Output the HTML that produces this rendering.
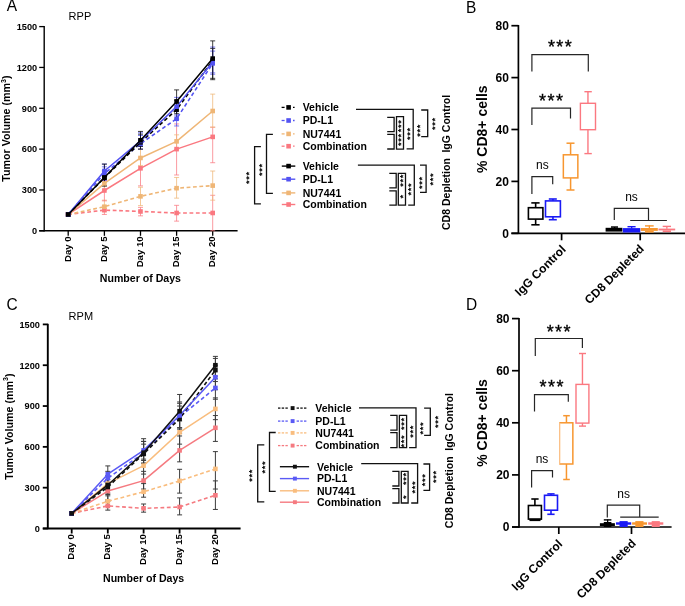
<!DOCTYPE html>
<html><head><meta charset="utf-8"><style>
html,body{margin:0;padding:0;background:#fff;width:685px;height:606px;overflow:hidden}
svg{display:block;will-change:transform}
text{font-family:"Liberation Sans", sans-serif}
</style></head><body>
<svg width="685" height="606" viewBox="0 0 685 606">
<rect width="685" height="606" fill="#fff"/>
<text font-size="15.5" font-weight="normal" text-anchor="start" fill="#000" transform="translate(6.80 11.10) scale(1 1.08)">A</text>
<text font-size="11" font-weight="normal" text-anchor="start" fill="#000" transform="translate(68.60 20.00)">RPP</text>
<line x1="44.2" y1="26" x2="44.2" y2="231.4" stroke="#000" stroke-width="1.4"/>
<line x1="39.2" y1="230.8" x2="44.2" y2="230.8" stroke="#000" stroke-width="1.3"/>
<text font-size="9.2" font-weight="bold" text-anchor="end" fill="#000" transform="translate(37.20 234.10)">0</text>
<line x1="39.2" y1="189.96" x2="44.2" y2="189.96" stroke="#000" stroke-width="1.3"/>
<text font-size="9.2" font-weight="bold" text-anchor="end" fill="#000" transform="translate(37.20 193.26)">300</text>
<line x1="39.2" y1="149.12" x2="44.2" y2="149.12" stroke="#000" stroke-width="1.3"/>
<text font-size="9.2" font-weight="bold" text-anchor="end" fill="#000" transform="translate(37.20 152.42)">600</text>
<line x1="39.2" y1="108.28" x2="44.2" y2="108.28" stroke="#000" stroke-width="1.3"/>
<text font-size="9.2" font-weight="bold" text-anchor="end" fill="#000" transform="translate(37.20 111.58)">900</text>
<line x1="39.2" y1="67.44" x2="44.2" y2="67.44" stroke="#000" stroke-width="1.3"/>
<text font-size="9.2" font-weight="bold" text-anchor="end" fill="#000" transform="translate(37.20 70.74)">1200</text>
<line x1="39.2" y1="26.6" x2="44.2" y2="26.6" stroke="#000" stroke-width="1.3"/>
<text font-size="9.2" font-weight="bold" text-anchor="end" fill="#000" transform="translate(37.20 29.90)">1500</text>
<line x1="39.2" y1="230.8" x2="237.6" y2="230.8" stroke="#000" stroke-width="1.4"/>
<line x1="68.2" y1="230.8" x2="68.2" y2="235.8" stroke="#000" stroke-width="1.3"/>
<text font-size="9.6" font-weight="bold" text-anchor="end" fill="#000" transform="translate(70.60 236.40) rotate(-90)">Day 0</text>
<line x1="104.4" y1="230.8" x2="104.4" y2="235.8" stroke="#000" stroke-width="1.3"/>
<text font-size="9.6" font-weight="bold" text-anchor="end" fill="#000" transform="translate(106.80 236.40) rotate(-90)">Day 5</text>
<line x1="140.5" y1="230.8" x2="140.5" y2="235.8" stroke="#000" stroke-width="1.3"/>
<text font-size="9.6" font-weight="bold" text-anchor="end" fill="#000" transform="translate(142.90 236.40) rotate(-90)">Day 10</text>
<line x1="176.6" y1="230.8" x2="176.6" y2="235.8" stroke="#000" stroke-width="1.3"/>
<text font-size="9.6" font-weight="bold" text-anchor="end" fill="#000" transform="translate(179.00 236.40) rotate(-90)">Day 15</text>
<line x1="212.7" y1="230.8" x2="212.7" y2="235.8" stroke="#000" stroke-width="1.3"/>
<text font-size="9.6" font-weight="bold" text-anchor="end" fill="#000" transform="translate(215.10 236.40) rotate(-90)">Day 20</text>
<text font-size="10.6" font-weight="bold" text-anchor="middle" fill="#000" transform="translate(140.40 282.40)">Number of Days</text>
<text font-size="10.7" font-weight="bold" text-anchor="middle" fill="#000" transform="translate(10.10 128.60) rotate(-90)">Tumor Volume (mm<tspan font-size="7" dy="-4.6">3</tspan><tspan dy="4.6">)</tspan></text>
<line x1="104.4" y1="205.62" x2="104.4" y2="214.46" stroke="#fa7880" stroke-width="1" stroke-opacity="0.75"/>
<line x1="101.9" y1="205.62" x2="106.9" y2="205.62" stroke="#fa7880" stroke-width="1" stroke-opacity="0.75"/>
<line x1="101.9" y1="214.46" x2="106.9" y2="214.46" stroke="#fa7880" stroke-width="1" stroke-opacity="0.75"/>
<line x1="140.5" y1="207.39" x2="140.5" y2="215.83" stroke="#fa7880" stroke-width="1" stroke-opacity="0.75"/>
<line x1="138" y1="207.39" x2="143" y2="207.39" stroke="#fa7880" stroke-width="1" stroke-opacity="0.75"/>
<line x1="138" y1="215.83" x2="143" y2="215.83" stroke="#fa7880" stroke-width="1" stroke-opacity="0.75"/>
<line x1="176.6" y1="205.34" x2="176.6" y2="221.13" stroke="#fa7880" stroke-width="1" stroke-opacity="0.75"/>
<line x1="174.1" y1="205.34" x2="179.1" y2="205.34" stroke="#fa7880" stroke-width="1" stroke-opacity="0.75"/>
<line x1="174.1" y1="221.13" x2="179.1" y2="221.13" stroke="#fa7880" stroke-width="1" stroke-opacity="0.75"/>
<line x1="212.7" y1="195.27" x2="212.7" y2="230.8" stroke="#fa7880" stroke-width="1" stroke-opacity="0.75"/>
<line x1="210.2" y1="195.27" x2="215.2" y2="195.27" stroke="#fa7880" stroke-width="1" stroke-opacity="0.75"/>
<line x1="210.2" y1="230.8" x2="215.2" y2="230.8" stroke="#fa7880" stroke-width="1" stroke-opacity="0.75"/>
<line x1="104.4" y1="200.17" x2="104.4" y2="211.74" stroke="#efb676" stroke-width="1" stroke-opacity="0.75"/>
<line x1="101.9" y1="200.17" x2="106.9" y2="200.17" stroke="#efb676" stroke-width="1" stroke-opacity="0.75"/>
<line x1="101.9" y1="211.74" x2="106.9" y2="211.74" stroke="#efb676" stroke-width="1" stroke-opacity="0.75"/>
<line x1="140.5" y1="187.24" x2="140.5" y2="205.62" stroke="#efb676" stroke-width="1" stroke-opacity="0.75"/>
<line x1="138" y1="187.24" x2="143" y2="187.24" stroke="#efb676" stroke-width="1" stroke-opacity="0.75"/>
<line x1="138" y1="205.62" x2="143" y2="205.62" stroke="#efb676" stroke-width="1" stroke-opacity="0.75"/>
<line x1="176.6" y1="177.44" x2="176.6" y2="198.13" stroke="#efb676" stroke-width="1" stroke-opacity="0.75"/>
<line x1="174.1" y1="177.44" x2="179.1" y2="177.44" stroke="#efb676" stroke-width="1" stroke-opacity="0.75"/>
<line x1="174.1" y1="198.13" x2="179.1" y2="198.13" stroke="#efb676" stroke-width="1" stroke-opacity="0.75"/>
<line x1="212.7" y1="171.04" x2="212.7" y2="200.17" stroke="#efb676" stroke-width="1" stroke-opacity="0.75"/>
<line x1="210.2" y1="171.04" x2="215.2" y2="171.04" stroke="#efb676" stroke-width="1" stroke-opacity="0.75"/>
<line x1="210.2" y1="200.17" x2="215.2" y2="200.17" stroke="#efb676" stroke-width="1" stroke-opacity="0.75"/>
<line x1="104.4" y1="180.43" x2="104.4" y2="200.85" stroke="#fa7880" stroke-width="1" stroke-opacity="0.75"/>
<line x1="101.9" y1="180.43" x2="106.9" y2="180.43" stroke="#fa7880" stroke-width="1" stroke-opacity="0.75"/>
<line x1="101.9" y1="200.85" x2="106.9" y2="200.85" stroke="#fa7880" stroke-width="1" stroke-opacity="0.75"/>
<line x1="140.5" y1="157.29" x2="140.5" y2="185.88" stroke="#fa7880" stroke-width="1" stroke-opacity="0.75"/>
<line x1="138" y1="157.29" x2="143" y2="157.29" stroke="#fa7880" stroke-width="1" stroke-opacity="0.75"/>
<line x1="138" y1="185.88" x2="143" y2="185.88" stroke="#fa7880" stroke-width="1" stroke-opacity="0.75"/>
<line x1="176.6" y1="123.94" x2="176.6" y2="174.99" stroke="#fa7880" stroke-width="1" stroke-opacity="0.75"/>
<line x1="174.1" y1="123.94" x2="179.1" y2="123.94" stroke="#fa7880" stroke-width="1" stroke-opacity="0.75"/>
<line x1="174.1" y1="174.99" x2="179.1" y2="174.99" stroke="#fa7880" stroke-width="1" stroke-opacity="0.75"/>
<line x1="212.7" y1="127.2" x2="212.7" y2="162.73" stroke="#fa7880" stroke-width="1" stroke-opacity="0.75"/>
<line x1="210.2" y1="127.2" x2="215.2" y2="127.2" stroke="#fa7880" stroke-width="1" stroke-opacity="0.75"/>
<line x1="210.2" y1="162.73" x2="215.2" y2="162.73" stroke="#fa7880" stroke-width="1" stroke-opacity="0.75"/>
<line x1="104.4" y1="176.35" x2="104.4" y2="189.96" stroke="#efb676" stroke-width="1" stroke-opacity="0.75"/>
<line x1="101.9" y1="176.35" x2="106.9" y2="176.35" stroke="#efb676" stroke-width="1" stroke-opacity="0.75"/>
<line x1="101.9" y1="189.96" x2="106.9" y2="189.96" stroke="#efb676" stroke-width="1" stroke-opacity="0.75"/>
<line x1="140.5" y1="149.12" x2="140.5" y2="165.46" stroke="#efb676" stroke-width="1" stroke-opacity="0.75"/>
<line x1="138" y1="149.12" x2="143" y2="149.12" stroke="#efb676" stroke-width="1" stroke-opacity="0.75"/>
<line x1="138" y1="165.46" x2="143" y2="165.46" stroke="#efb676" stroke-width="1" stroke-opacity="0.75"/>
<line x1="176.6" y1="134.83" x2="176.6" y2="149.12" stroke="#efb676" stroke-width="1" stroke-opacity="0.75"/>
<line x1="174.1" y1="134.83" x2="179.1" y2="134.83" stroke="#efb676" stroke-width="1" stroke-opacity="0.75"/>
<line x1="174.1" y1="149.12" x2="179.1" y2="149.12" stroke="#efb676" stroke-width="1" stroke-opacity="0.75"/>
<line x1="212.7" y1="94.12" x2="212.7" y2="127.2" stroke="#efb676" stroke-width="1" stroke-opacity="0.75"/>
<line x1="210.2" y1="94.12" x2="215.2" y2="94.12" stroke="#efb676" stroke-width="1" stroke-opacity="0.75"/>
<line x1="210.2" y1="127.2" x2="215.2" y2="127.2" stroke="#efb676" stroke-width="1" stroke-opacity="0.75"/>
<line x1="104.4" y1="166.82" x2="104.4" y2="180.43" stroke="#5353f2" stroke-width="1" stroke-opacity="0.75"/>
<line x1="101.9" y1="166.82" x2="106.9" y2="166.82" stroke="#5353f2" stroke-width="1" stroke-opacity="0.75"/>
<line x1="101.9" y1="180.43" x2="106.9" y2="180.43" stroke="#5353f2" stroke-width="1" stroke-opacity="0.75"/>
<line x1="140.5" y1="135.51" x2="140.5" y2="149.12" stroke="#5353f2" stroke-width="1" stroke-opacity="0.75"/>
<line x1="138" y1="135.51" x2="143" y2="135.51" stroke="#5353f2" stroke-width="1" stroke-opacity="0.75"/>
<line x1="138" y1="149.12" x2="143" y2="149.12" stroke="#5353f2" stroke-width="1" stroke-opacity="0.75"/>
<line x1="176.6" y1="111" x2="176.6" y2="125.98" stroke="#5353f2" stroke-width="1" stroke-opacity="0.75"/>
<line x1="174.1" y1="111" x2="179.1" y2="111" stroke="#5353f2" stroke-width="1" stroke-opacity="0.75"/>
<line x1="174.1" y1="125.98" x2="179.1" y2="125.98" stroke="#5353f2" stroke-width="1" stroke-opacity="0.75"/>
<line x1="212.7" y1="51.1" x2="212.7" y2="74.25" stroke="#5353f2" stroke-width="1" stroke-opacity="0.75"/>
<line x1="210.2" y1="51.1" x2="215.2" y2="51.1" stroke="#5353f2" stroke-width="1" stroke-opacity="0.75"/>
<line x1="210.2" y1="74.25" x2="215.2" y2="74.25" stroke="#5353f2" stroke-width="1" stroke-opacity="0.75"/>
<line x1="104.4" y1="170.9" x2="104.4" y2="185.88" stroke="#000000" stroke-width="1" stroke-opacity="0.75"/>
<line x1="101.9" y1="170.9" x2="106.9" y2="170.9" stroke="#000000" stroke-width="1" stroke-opacity="0.75"/>
<line x1="101.9" y1="185.88" x2="106.9" y2="185.88" stroke="#000000" stroke-width="1" stroke-opacity="0.75"/>
<line x1="140.5" y1="134.15" x2="140.5" y2="149.12" stroke="#000000" stroke-width="1" stroke-opacity="0.75"/>
<line x1="138" y1="134.15" x2="143" y2="134.15" stroke="#000000" stroke-width="1" stroke-opacity="0.75"/>
<line x1="138" y1="149.12" x2="143" y2="149.12" stroke="#000000" stroke-width="1" stroke-opacity="0.75"/>
<line x1="176.6" y1="100.11" x2="176.6" y2="119.17" stroke="#000000" stroke-width="1" stroke-opacity="0.75"/>
<line x1="174.1" y1="100.11" x2="179.1" y2="100.11" stroke="#000000" stroke-width="1" stroke-opacity="0.75"/>
<line x1="174.1" y1="119.17" x2="179.1" y2="119.17" stroke="#000000" stroke-width="1" stroke-opacity="0.75"/>
<line x1="212.7" y1="48.38" x2="212.7" y2="78.33" stroke="#000000" stroke-width="1" stroke-opacity="0.75"/>
<line x1="210.2" y1="48.38" x2="215.2" y2="48.38" stroke="#000000" stroke-width="1" stroke-opacity="0.75"/>
<line x1="210.2" y1="78.33" x2="215.2" y2="78.33" stroke="#000000" stroke-width="1" stroke-opacity="0.75"/>
<line x1="104.4" y1="164.09" x2="104.4" y2="176.35" stroke="#5353f2" stroke-width="1" stroke-opacity="0.75"/>
<line x1="101.9" y1="164.09" x2="106.9" y2="164.09" stroke="#5353f2" stroke-width="1" stroke-opacity="0.75"/>
<line x1="101.9" y1="176.35" x2="106.9" y2="176.35" stroke="#5353f2" stroke-width="1" stroke-opacity="0.75"/>
<line x1="140.5" y1="132.78" x2="140.5" y2="146.4" stroke="#5353f2" stroke-width="1" stroke-opacity="0.75"/>
<line x1="138" y1="132.78" x2="143" y2="132.78" stroke="#5353f2" stroke-width="1" stroke-opacity="0.75"/>
<line x1="138" y1="146.4" x2="143" y2="146.4" stroke="#5353f2" stroke-width="1" stroke-opacity="0.75"/>
<line x1="176.6" y1="97.39" x2="176.6" y2="115.09" stroke="#5353f2" stroke-width="1" stroke-opacity="0.75"/>
<line x1="174.1" y1="97.39" x2="179.1" y2="97.39" stroke="#5353f2" stroke-width="1" stroke-opacity="0.75"/>
<line x1="174.1" y1="115.09" x2="179.1" y2="115.09" stroke="#5353f2" stroke-width="1" stroke-opacity="0.75"/>
<line x1="212.7" y1="47.02" x2="212.7" y2="72.89" stroke="#5353f2" stroke-width="1" stroke-opacity="0.75"/>
<line x1="210.2" y1="47.02" x2="215.2" y2="47.02" stroke="#5353f2" stroke-width="1" stroke-opacity="0.75"/>
<line x1="210.2" y1="72.89" x2="215.2" y2="72.89" stroke="#5353f2" stroke-width="1" stroke-opacity="0.75"/>
<line x1="104.4" y1="164.09" x2="104.4" y2="185.88" stroke="#000000" stroke-width="1" stroke-opacity="0.75"/>
<line x1="101.9" y1="164.09" x2="106.9" y2="164.09" stroke="#000000" stroke-width="1" stroke-opacity="0.75"/>
<line x1="101.9" y1="185.88" x2="106.9" y2="185.88" stroke="#000000" stroke-width="1" stroke-opacity="0.75"/>
<line x1="140.5" y1="131.42" x2="140.5" y2="146.4" stroke="#000000" stroke-width="1" stroke-opacity="0.75"/>
<line x1="138" y1="131.42" x2="143" y2="131.42" stroke="#000000" stroke-width="1" stroke-opacity="0.75"/>
<line x1="138" y1="146.4" x2="143" y2="146.4" stroke="#000000" stroke-width="1" stroke-opacity="0.75"/>
<line x1="176.6" y1="89.9" x2="176.6" y2="113.73" stroke="#000000" stroke-width="1" stroke-opacity="0.75"/>
<line x1="174.1" y1="89.9" x2="179.1" y2="89.9" stroke="#000000" stroke-width="1" stroke-opacity="0.75"/>
<line x1="174.1" y1="113.73" x2="179.1" y2="113.73" stroke="#000000" stroke-width="1" stroke-opacity="0.75"/>
<line x1="212.7" y1="40.89" x2="212.7" y2="79.69" stroke="#000000" stroke-width="1" stroke-opacity="0.75"/>
<line x1="210.2" y1="40.89" x2="215.2" y2="40.89" stroke="#000000" stroke-width="1" stroke-opacity="0.75"/>
<line x1="210.2" y1="79.69" x2="215.2" y2="79.69" stroke="#000000" stroke-width="1" stroke-opacity="0.75"/>
<path d="M68.20,214.46 L104.40,210.11 L140.50,211.47 L176.60,212.97 L212.70,212.97" stroke="#fa7880" stroke-width="1.6" fill="none" stroke-dasharray="3.8,2.6" stroke-linejoin="round"/>
<rect x="65.9" y="212.16" width="4.6" height="4.6" fill="#fa7880" stroke="none" stroke-width="1"/>
<rect x="102.1" y="207.81" width="4.6" height="4.6" fill="#fa7880" stroke="none" stroke-width="1"/>
<rect x="138.2" y="209.17" width="4.6" height="4.6" fill="#fa7880" stroke="none" stroke-width="1"/>
<rect x="174.3" y="210.67" width="4.6" height="4.6" fill="#fa7880" stroke="none" stroke-width="1"/>
<rect x="210.4" y="210.67" width="4.6" height="4.6" fill="#fa7880" stroke="none" stroke-width="1"/>
<path d="M68.20,214.46 L104.40,206.70 L140.50,196.36 L176.60,188.19 L212.70,185.60" stroke="#efb676" stroke-width="1.6" fill="none" stroke-dasharray="3.8,2.6" stroke-linejoin="round"/>
<rect x="65.9" y="212.16" width="4.6" height="4.6" fill="#efb676" stroke="none" stroke-width="1"/>
<rect x="102.1" y="204.4" width="4.6" height="4.6" fill="#efb676" stroke="none" stroke-width="1"/>
<rect x="138.2" y="194.06" width="4.6" height="4.6" fill="#efb676" stroke="none" stroke-width="1"/>
<rect x="174.3" y="185.89" width="4.6" height="4.6" fill="#efb676" stroke="none" stroke-width="1"/>
<rect x="210.4" y="183.3" width="4.6" height="4.6" fill="#efb676" stroke="none" stroke-width="1"/>
<path d="M68.20,214.46 L104.40,190.50 L140.50,168.31 L176.60,149.12 L212.70,136.87" stroke="#fa7880" stroke-width="1.5" fill="none" stroke-linejoin="round"/>
<rect x="65.9" y="212.16" width="4.6" height="4.6" fill="#fa7880" stroke="none" stroke-width="1"/>
<rect x="102.1" y="188.2" width="4.6" height="4.6" fill="#fa7880" stroke="none" stroke-width="1"/>
<rect x="138.2" y="166.01" width="4.6" height="4.6" fill="#fa7880" stroke="none" stroke-width="1"/>
<rect x="174.3" y="146.82" width="4.6" height="4.6" fill="#fa7880" stroke="none" stroke-width="1"/>
<rect x="210.4" y="134.57" width="4.6" height="4.6" fill="#fa7880" stroke="none" stroke-width="1"/>
<path d="M68.20,214.46 L104.40,183.43 L140.50,157.97 L176.60,141.36 L212.70,111.00" stroke="#efb676" stroke-width="1.5" fill="none" stroke-linejoin="round"/>
<rect x="65.9" y="212.16" width="4.6" height="4.6" fill="#efb676" stroke="none" stroke-width="1"/>
<rect x="102.1" y="181.13" width="4.6" height="4.6" fill="#efb676" stroke="none" stroke-width="1"/>
<rect x="138.2" y="155.67" width="4.6" height="4.6" fill="#efb676" stroke="none" stroke-width="1"/>
<rect x="174.3" y="139.06" width="4.6" height="4.6" fill="#efb676" stroke="none" stroke-width="1"/>
<rect x="210.4" y="108.7" width="4.6" height="4.6" fill="#efb676" stroke="none" stroke-width="1"/>
<path d="M68.20,214.46 L104.40,173.62 L140.50,143.67 L176.60,118.76 L212.70,63.36" stroke="#5353f2" stroke-width="1.6" fill="none" stroke-dasharray="3.8,2.6" stroke-linejoin="round"/>
<rect x="65.9" y="212.16" width="4.6" height="4.6" fill="#5353f2" stroke="none" stroke-width="1"/>
<rect x="102.1" y="171.32" width="4.6" height="4.6" fill="#5353f2" stroke="none" stroke-width="1"/>
<rect x="138.2" y="141.37" width="4.6" height="4.6" fill="#5353f2" stroke="none" stroke-width="1"/>
<rect x="174.3" y="116.46" width="4.6" height="4.6" fill="#5353f2" stroke="none" stroke-width="1"/>
<rect x="210.4" y="61.06" width="4.6" height="4.6" fill="#5353f2" stroke="none" stroke-width="1"/>
<path d="M68.20,214.46 L104.40,177.71 L140.50,142.31 L176.60,109.64 L212.70,60.63" stroke="#000000" stroke-width="1.6" fill="none" stroke-dasharray="3.8,2.6" stroke-linejoin="round"/>
<rect x="65.9" y="212.16" width="4.6" height="4.6" fill="#000000" stroke="none" stroke-width="1"/>
<rect x="102.1" y="175.41" width="4.6" height="4.6" fill="#000000" stroke="none" stroke-width="1"/>
<rect x="138.2" y="140.01" width="4.6" height="4.6" fill="#000000" stroke="none" stroke-width="1"/>
<rect x="174.3" y="107.34" width="4.6" height="4.6" fill="#000000" stroke="none" stroke-width="1"/>
<rect x="210.4" y="58.33" width="4.6" height="4.6" fill="#000000" stroke="none" stroke-width="1"/>
<path d="M68.20,214.46 L104.40,171.04 L140.50,140.95 L176.60,106.65 L212.70,61.99" stroke="#5353f2" stroke-width="1.5" fill="none" stroke-linejoin="round"/>
<rect x="65.9" y="212.16" width="4.6" height="4.6" fill="#5353f2" stroke="none" stroke-width="1"/>
<rect x="102.1" y="168.74" width="4.6" height="4.6" fill="#5353f2" stroke="none" stroke-width="1"/>
<rect x="138.2" y="138.65" width="4.6" height="4.6" fill="#5353f2" stroke="none" stroke-width="1"/>
<rect x="174.3" y="104.35" width="4.6" height="4.6" fill="#5353f2" stroke="none" stroke-width="1"/>
<rect x="210.4" y="59.69" width="4.6" height="4.6" fill="#5353f2" stroke="none" stroke-width="1"/>
<path d="M68.20,214.46 L104.40,177.57 L140.50,140.27 L176.60,101.47 L212.70,58.59" stroke="#000000" stroke-width="1.5" fill="none" stroke-linejoin="round"/>
<rect x="65.9" y="212.16" width="4.6" height="4.6" fill="#000000" stroke="none" stroke-width="1"/>
<rect x="102.1" y="175.27" width="4.6" height="4.6" fill="#000000" stroke="none" stroke-width="1"/>
<rect x="138.2" y="137.97" width="4.6" height="4.6" fill="#000000" stroke="none" stroke-width="1"/>
<rect x="174.3" y="99.17" width="4.6" height="4.6" fill="#000000" stroke="none" stroke-width="1"/>
<rect x="210.4" y="56.29" width="4.6" height="4.6" fill="#000000" stroke="none" stroke-width="1"/>
<line x1="281.6" y1="107.4" x2="284.6" y2="107.4" stroke="#000000" stroke-width="1.3"/>
<line x1="293" y1="107.4" x2="294.6" y2="107.4" stroke="#000000" stroke-width="1.3"/>
<rect x="286.3" y="105.1" width="4.6" height="4.6" fill="#000000" stroke="none" stroke-width="1"/>
<text font-size="10.5" font-weight="bold" text-anchor="start" fill="#000" transform="translate(302.70 111.20)">Vehicle</text>
<line x1="281.6" y1="120.5" x2="284.6" y2="120.5" stroke="#5353f2" stroke-width="1.3"/>
<line x1="293" y1="120.5" x2="294.6" y2="120.5" stroke="#5353f2" stroke-width="1.3"/>
<rect x="286.3" y="118.2" width="4.6" height="4.6" fill="#5353f2" stroke="none" stroke-width="1"/>
<text font-size="10.5" font-weight="bold" text-anchor="start" fill="#000" transform="translate(302.70 124.30)">PD-L1</text>
<line x1="281.6" y1="133.9" x2="284.6" y2="133.9" stroke="#efb676" stroke-width="1.3"/>
<line x1="293" y1="133.9" x2="294.6" y2="133.9" stroke="#efb676" stroke-width="1.3"/>
<rect x="286.3" y="131.6" width="4.6" height="4.6" fill="#efb676" stroke="none" stroke-width="1"/>
<text font-size="10.5" font-weight="bold" text-anchor="start" fill="#000" transform="translate(302.70 137.70)">NU7441</text>
<line x1="281.6" y1="146.2" x2="284.6" y2="146.2" stroke="#fa7880" stroke-width="1.3"/>
<line x1="293" y1="146.2" x2="294.6" y2="146.2" stroke="#fa7880" stroke-width="1.3"/>
<rect x="286.3" y="143.9" width="4.6" height="4.6" fill="#fa7880" stroke="none" stroke-width="1"/>
<text font-size="10.5" font-weight="bold" text-anchor="start" fill="#000" transform="translate(302.70 150.00)">Combination</text>
<line x1="281.8" y1="166.1" x2="295.3" y2="166.1" stroke="#000000" stroke-width="1.4"/>
<rect x="286.3" y="163.8" width="4.6" height="4.6" fill="#000000" stroke="none" stroke-width="1"/>
<text font-size="10.5" font-weight="bold" text-anchor="start" fill="#000" transform="translate(302.70 169.90)">Vehicle</text>
<line x1="281.8" y1="179.2" x2="295.3" y2="179.2" stroke="#5353f2" stroke-width="1.4"/>
<rect x="286.3" y="176.9" width="4.6" height="4.6" fill="#5353f2" stroke="none" stroke-width="1"/>
<text font-size="10.5" font-weight="bold" text-anchor="start" fill="#000" transform="translate(302.70 183.00)">PD-L1</text>
<line x1="281.8" y1="192.9" x2="295.3" y2="192.9" stroke="#efb676" stroke-width="1.4"/>
<rect x="286.3" y="190.6" width="4.6" height="4.6" fill="#efb676" stroke="none" stroke-width="1"/>
<text font-size="10.5" font-weight="bold" text-anchor="start" fill="#000" transform="translate(302.70 196.70)">NU7441</text>
<line x1="281.8" y1="204.5" x2="295.3" y2="204.5" stroke="#fa7880" stroke-width="1.4"/>
<rect x="286.3" y="202.2" width="4.6" height="4.6" fill="#fa7880" stroke="none" stroke-width="1"/>
<text font-size="10.5" font-weight="bold" text-anchor="start" fill="#000" transform="translate(302.70 208.30)">Combination</text>
<path d="M356,109.4 H413.2 V148.8 H406.6" stroke="#111" stroke-width="1.3" fill="none"/>
<path d="M387.2,117.3 H394.1 V131.6 H387.2" stroke="#111" stroke-width="1.3" fill="none"/>
<path d="M387.2,134.4 H394.1 V149 H387.2" stroke="#111" stroke-width="1.3" fill="none"/>
<path d="M396.5,116.7 H403.5 V149.2 H396.5 Z" stroke="#111" stroke-width="1.3" fill="none"/>
<path d="M421.2,110 H427.7 V136.7 H421.2" stroke="#111" stroke-width="1.3" fill="none"/>
<path d="M357.9,165.2 H414.3 V205.1 H408.2" stroke="#111" stroke-width="1.3" fill="none"/>
<path d="M389.3,173.4 H396.2 V187.9 H389.3" stroke="#111" stroke-width="1.3" fill="none"/>
<path d="M389.3,190.8 H396.2 V205.1 H389.3" stroke="#111" stroke-width="1.3" fill="none"/>
<path d="M398.3,173.4 H405.5 V205.1 H398.3 Z" stroke="#111" stroke-width="1.3" fill="none"/>
<path d="M420,165.2 H426.1 V192.3 H420" stroke="#111" stroke-width="1.3" fill="none"/>
<path d="M272.9,134.4 H266.5 V193.3 H272.9" stroke="#111" stroke-width="1.3" fill="none"/>
<path d="M260.9,146.7 H254.6 V203.8 H260.9" stroke="#111" stroke-width="1.3" fill="none"/>
<text font-size="9.4" font-weight="bold" text-anchor="middle" fill="#000" transform="translate(404.00 125.90) rotate(-90)" letter-spacing="0.6">***</text>
<text font-size="9.4" font-weight="bold" text-anchor="middle" fill="#000" transform="translate(404.00 139.70) rotate(-90)" letter-spacing="0.6">***</text>
<text font-size="9.4" font-weight="bold" text-anchor="middle" fill="#000" transform="translate(413.20 133.50) rotate(-90)" letter-spacing="0.6">***</text>
<text font-size="9.4" font-weight="bold" text-anchor="middle" fill="#000" transform="translate(422.70 130.30) rotate(-90)" letter-spacing="0.6">***</text>
<text font-size="9.4" font-weight="bold" text-anchor="middle" fill="#000" transform="translate(438.10 123.60) rotate(-90)" letter-spacing="0.6">***</text>
<text font-size="9.4" font-weight="bold" text-anchor="middle" fill="#000" transform="translate(405.70 180.40) rotate(-90)" letter-spacing="0.6">***</text>
<text font-size="9.4" font-weight="bold" text-anchor="middle" fill="#000" transform="translate(405.70 196.40) rotate(-90)" letter-spacing="0.6">*</text>
<text font-size="9.4" font-weight="bold" text-anchor="middle" fill="#000" transform="translate(414.40 189.00) rotate(-90)" letter-spacing="0.6">***</text>
<text font-size="9.4" font-weight="bold" text-anchor="middle" fill="#000" transform="translate(424.70 182.60) rotate(-90)" letter-spacing="0.6">***</text>
<text font-size="9.4" font-weight="bold" text-anchor="middle" fill="#000" transform="translate(436.40 179.00) rotate(-90)" letter-spacing="0.6">***</text>
<text font-size="9.4" font-weight="bold" text-anchor="middle" fill="#000" transform="translate(264.90 169.50) rotate(-90)" letter-spacing="0.6">***</text>
<text font-size="9.4" font-weight="bold" text-anchor="middle" fill="#000" transform="translate(252.30 177.60) rotate(-90)" letter-spacing="0.6">***</text>
<text font-size="10.5" font-weight="bold" text-anchor="middle" fill="#000" transform="translate(449.60 162.40) rotate(-90)">CD8 Depletion<tspan dx="2.7"> IgG Control</tspan></text>
<text font-size="15.5" font-weight="normal" text-anchor="start" fill="#000" transform="translate(6.40 310.00) scale(1 1.08)">C</text>
<text font-size="11" font-weight="normal" text-anchor="start" fill="#000" transform="translate(68.60 320.10)">RPM</text>
<line x1="47.8" y1="323.8" x2="47.8" y2="529.1" stroke="#000" stroke-width="1.9"/>
<line x1="42.8" y1="528.5" x2="47.8" y2="528.5" stroke="#000" stroke-width="1.8"/>
<text font-size="9.2" font-weight="bold" text-anchor="end" fill="#000" transform="translate(39.90 531.80)">0</text>
<line x1="42.8" y1="487.68" x2="47.8" y2="487.68" stroke="#000" stroke-width="1.8"/>
<text font-size="9.2" font-weight="bold" text-anchor="end" fill="#000" transform="translate(39.90 490.98)">300</text>
<line x1="42.8" y1="446.86" x2="47.8" y2="446.86" stroke="#000" stroke-width="1.8"/>
<text font-size="9.2" font-weight="bold" text-anchor="end" fill="#000" transform="translate(39.90 450.16)">600</text>
<line x1="42.8" y1="406.04" x2="47.8" y2="406.04" stroke="#000" stroke-width="1.8"/>
<text font-size="9.2" font-weight="bold" text-anchor="end" fill="#000" transform="translate(39.90 409.34)">900</text>
<line x1="42.8" y1="365.22" x2="47.8" y2="365.22" stroke="#000" stroke-width="1.8"/>
<text font-size="9.2" font-weight="bold" text-anchor="end" fill="#000" transform="translate(39.90 368.52)">1200</text>
<line x1="42.8" y1="324.4" x2="47.8" y2="324.4" stroke="#000" stroke-width="1.8"/>
<text font-size="9.2" font-weight="bold" text-anchor="end" fill="#000" transform="translate(39.90 327.70)">1500</text>
<line x1="42.8" y1="528.5" x2="240.6" y2="528.5" stroke="#000" stroke-width="1.9"/>
<line x1="71.7" y1="528.5" x2="71.7" y2="533.5" stroke="#000" stroke-width="1.8"/>
<text font-size="9.6" font-weight="bold" text-anchor="end" fill="#000" transform="translate(74.10 534.10) rotate(-90)">Day 0</text>
<line x1="107.8" y1="528.5" x2="107.8" y2="533.5" stroke="#000" stroke-width="1.8"/>
<text font-size="9.6" font-weight="bold" text-anchor="end" fill="#000" transform="translate(110.20 534.10) rotate(-90)">Day 5</text>
<line x1="143.6" y1="528.5" x2="143.6" y2="533.5" stroke="#000" stroke-width="1.8"/>
<text font-size="9.6" font-weight="bold" text-anchor="end" fill="#000" transform="translate(146.00 534.10) rotate(-90)">Day 10</text>
<line x1="179.6" y1="528.5" x2="179.6" y2="533.5" stroke="#000" stroke-width="1.8"/>
<text font-size="9.6" font-weight="bold" text-anchor="end" fill="#000" transform="translate(182.00 534.10) rotate(-90)">Day 15</text>
<line x1="215.4" y1="528.5" x2="215.4" y2="533.5" stroke="#000" stroke-width="1.8"/>
<text font-size="9.6" font-weight="bold" text-anchor="end" fill="#000" transform="translate(217.80 534.10) rotate(-90)">Day 20</text>
<text font-size="10.6" font-weight="bold" text-anchor="middle" fill="#000" transform="translate(143.60 581.50)">Number of Days</text>
<text font-size="10.7" font-weight="bold" text-anchor="middle" fill="#000" transform="translate(12.80 426.60) rotate(-90)">Tumor Volume (mm<tspan font-size="7" dy="-4.6">3</tspan><tspan dy="4.6">)</tspan></text>
<line x1="107.8" y1="501.29" x2="107.8" y2="510.13" stroke="#3c3c3c" stroke-width="1"/>
<line x1="105.3" y1="501.29" x2="110.3" y2="501.29" stroke="#3c3c3c" stroke-width="1"/>
<line x1="105.3" y1="510.13" x2="110.3" y2="510.13" stroke="#3c3c3c" stroke-width="1"/>
<line x1="143.6" y1="504.01" x2="143.6" y2="512.17" stroke="#3c3c3c" stroke-width="1"/>
<line x1="141.1" y1="504.01" x2="146.1" y2="504.01" stroke="#3c3c3c" stroke-width="1"/>
<line x1="141.1" y1="512.17" x2="146.1" y2="512.17" stroke="#3c3c3c" stroke-width="1"/>
<line x1="179.6" y1="497.88" x2="179.6" y2="514.89" stroke="#3c3c3c" stroke-width="1"/>
<line x1="177.1" y1="497.88" x2="182.1" y2="497.88" stroke="#3c3c3c" stroke-width="1"/>
<line x1="177.1" y1="514.89" x2="182.1" y2="514.89" stroke="#3c3c3c" stroke-width="1"/>
<line x1="215.4" y1="480.88" x2="215.4" y2="509.45" stroke="#3c3c3c" stroke-width="1"/>
<line x1="212.9" y1="480.88" x2="217.9" y2="480.88" stroke="#3c3c3c" stroke-width="1"/>
<line x1="212.9" y1="509.45" x2="217.9" y2="509.45" stroke="#3c3c3c" stroke-width="1"/>
<line x1="107.8" y1="495.84" x2="107.8" y2="506.05" stroke="#3c3c3c" stroke-width="1"/>
<line x1="105.3" y1="495.84" x2="110.3" y2="495.84" stroke="#3c3c3c" stroke-width="1"/>
<line x1="105.3" y1="506.05" x2="110.3" y2="506.05" stroke="#3c3c3c" stroke-width="1"/>
<line x1="143.6" y1="483.6" x2="143.6" y2="497.2" stroke="#3c3c3c" stroke-width="1"/>
<line x1="141.1" y1="483.6" x2="146.1" y2="483.6" stroke="#3c3c3c" stroke-width="1"/>
<line x1="141.1" y1="497.2" x2="146.1" y2="497.2" stroke="#3c3c3c" stroke-width="1"/>
<line x1="179.6" y1="469.31" x2="179.6" y2="493.12" stroke="#3c3c3c" stroke-width="1"/>
<line x1="177.1" y1="469.31" x2="182.1" y2="469.31" stroke="#3c3c3c" stroke-width="1"/>
<line x1="177.1" y1="493.12" x2="182.1" y2="493.12" stroke="#3c3c3c" stroke-width="1"/>
<line x1="215.4" y1="451.62" x2="215.4" y2="489.04" stroke="#3c3c3c" stroke-width="1"/>
<line x1="212.9" y1="451.62" x2="217.9" y2="451.62" stroke="#3c3c3c" stroke-width="1"/>
<line x1="212.9" y1="489.04" x2="217.9" y2="489.04" stroke="#3c3c3c" stroke-width="1"/>
<line x1="107.8" y1="483.6" x2="107.8" y2="499.93" stroke="#3c3c3c" stroke-width="1"/>
<line x1="105.3" y1="483.6" x2="110.3" y2="483.6" stroke="#3c3c3c" stroke-width="1"/>
<line x1="105.3" y1="499.93" x2="110.3" y2="499.93" stroke="#3c3c3c" stroke-width="1"/>
<line x1="143.6" y1="471.35" x2="143.6" y2="489.04" stroke="#3c3c3c" stroke-width="1"/>
<line x1="141.1" y1="471.35" x2="146.1" y2="471.35" stroke="#3c3c3c" stroke-width="1"/>
<line x1="141.1" y1="489.04" x2="146.1" y2="489.04" stroke="#3c3c3c" stroke-width="1"/>
<line x1="179.6" y1="435.97" x2="179.6" y2="461.83" stroke="#3c3c3c" stroke-width="1"/>
<line x1="177.1" y1="435.97" x2="182.1" y2="435.97" stroke="#3c3c3c" stroke-width="1"/>
<line x1="177.1" y1="461.83" x2="182.1" y2="461.83" stroke="#3c3c3c" stroke-width="1"/>
<line x1="215.4" y1="415.56" x2="215.4" y2="441.42" stroke="#3c3c3c" stroke-width="1"/>
<line x1="212.9" y1="415.56" x2="217.9" y2="415.56" stroke="#3c3c3c" stroke-width="1"/>
<line x1="212.9" y1="441.42" x2="217.9" y2="441.42" stroke="#3c3c3c" stroke-width="1"/>
<line x1="107.8" y1="475.43" x2="107.8" y2="490.4" stroke="#3c3c3c" stroke-width="1"/>
<line x1="105.3" y1="475.43" x2="110.3" y2="475.43" stroke="#3c3c3c" stroke-width="1"/>
<line x1="105.3" y1="490.4" x2="110.3" y2="490.4" stroke="#3c3c3c" stroke-width="1"/>
<line x1="143.6" y1="455.02" x2="143.6" y2="474.07" stroke="#3c3c3c" stroke-width="1"/>
<line x1="141.1" y1="455.02" x2="146.1" y2="455.02" stroke="#3c3c3c" stroke-width="1"/>
<line x1="141.1" y1="474.07" x2="146.1" y2="474.07" stroke="#3c3c3c" stroke-width="1"/>
<line x1="179.6" y1="421.01" x2="179.6" y2="444.14" stroke="#3c3c3c" stroke-width="1"/>
<line x1="177.1" y1="421.01" x2="182.1" y2="421.01" stroke="#3c3c3c" stroke-width="1"/>
<line x1="177.1" y1="444.14" x2="182.1" y2="444.14" stroke="#3c3c3c" stroke-width="1"/>
<line x1="215.4" y1="397.88" x2="215.4" y2="419.65" stroke="#3c3c3c" stroke-width="1"/>
<line x1="212.9" y1="397.88" x2="217.9" y2="397.88" stroke="#3c3c3c" stroke-width="1"/>
<line x1="212.9" y1="419.65" x2="217.9" y2="419.65" stroke="#3c3c3c" stroke-width="1"/>
<line x1="107.8" y1="471.35" x2="107.8" y2="484.96" stroke="#3c3c3c" stroke-width="1"/>
<line x1="105.3" y1="471.35" x2="110.3" y2="471.35" stroke="#3c3c3c" stroke-width="1"/>
<line x1="105.3" y1="484.96" x2="110.3" y2="484.96" stroke="#3c3c3c" stroke-width="1"/>
<line x1="143.6" y1="444.14" x2="143.6" y2="460.47" stroke="#3c3c3c" stroke-width="1"/>
<line x1="141.1" y1="444.14" x2="146.1" y2="444.14" stroke="#3c3c3c" stroke-width="1"/>
<line x1="141.1" y1="460.47" x2="146.1" y2="460.47" stroke="#3c3c3c" stroke-width="1"/>
<line x1="179.6" y1="406.04" x2="179.6" y2="429.17" stroke="#3c3c3c" stroke-width="1"/>
<line x1="177.1" y1="406.04" x2="182.1" y2="406.04" stroke="#3c3c3c" stroke-width="1"/>
<line x1="177.1" y1="429.17" x2="182.1" y2="429.17" stroke="#3c3c3c" stroke-width="1"/>
<line x1="215.4" y1="376.11" x2="215.4" y2="399.24" stroke="#3c3c3c" stroke-width="1"/>
<line x1="212.9" y1="376.11" x2="217.9" y2="376.11" stroke="#3c3c3c" stroke-width="1"/>
<line x1="212.9" y1="399.24" x2="217.9" y2="399.24" stroke="#3c3c3c" stroke-width="1"/>
<line x1="107.8" y1="479.52" x2="107.8" y2="494.48" stroke="#3c3c3c" stroke-width="1"/>
<line x1="105.3" y1="479.52" x2="110.3" y2="479.52" stroke="#3c3c3c" stroke-width="1"/>
<line x1="105.3" y1="494.48" x2="110.3" y2="494.48" stroke="#3c3c3c" stroke-width="1"/>
<line x1="143.6" y1="441.42" x2="143.6" y2="463.19" stroke="#3c3c3c" stroke-width="1"/>
<line x1="141.1" y1="441.42" x2="146.1" y2="441.42" stroke="#3c3c3c" stroke-width="1"/>
<line x1="141.1" y1="463.19" x2="146.1" y2="463.19" stroke="#3c3c3c" stroke-width="1"/>
<line x1="179.6" y1="403.32" x2="179.6" y2="433.25" stroke="#3c3c3c" stroke-width="1"/>
<line x1="177.1" y1="403.32" x2="182.1" y2="403.32" stroke="#3c3c3c" stroke-width="1"/>
<line x1="177.1" y1="433.25" x2="182.1" y2="433.25" stroke="#3c3c3c" stroke-width="1"/>
<line x1="215.4" y1="358.42" x2="215.4" y2="381.55" stroke="#3c3c3c" stroke-width="1"/>
<line x1="212.9" y1="358.42" x2="217.9" y2="358.42" stroke="#3c3c3c" stroke-width="1"/>
<line x1="212.9" y1="381.55" x2="217.9" y2="381.55" stroke="#3c3c3c" stroke-width="1"/>
<line x1="107.8" y1="465.91" x2="107.8" y2="482.24" stroke="#3c3c3c" stroke-width="1"/>
<line x1="105.3" y1="465.91" x2="110.3" y2="465.91" stroke="#3c3c3c" stroke-width="1"/>
<line x1="105.3" y1="482.24" x2="110.3" y2="482.24" stroke="#3c3c3c" stroke-width="1"/>
<line x1="143.6" y1="441.42" x2="143.6" y2="459.11" stroke="#3c3c3c" stroke-width="1"/>
<line x1="141.1" y1="441.42" x2="146.1" y2="441.42" stroke="#3c3c3c" stroke-width="1"/>
<line x1="141.1" y1="459.11" x2="146.1" y2="459.11" stroke="#3c3c3c" stroke-width="1"/>
<line x1="179.6" y1="401.96" x2="179.6" y2="427.81" stroke="#3c3c3c" stroke-width="1"/>
<line x1="177.1" y1="401.96" x2="182.1" y2="401.96" stroke="#3c3c3c" stroke-width="1"/>
<line x1="177.1" y1="427.81" x2="182.1" y2="427.81" stroke="#3c3c3c" stroke-width="1"/>
<line x1="215.4" y1="365.22" x2="215.4" y2="389.71" stroke="#3c3c3c" stroke-width="1"/>
<line x1="212.9" y1="365.22" x2="217.9" y2="365.22" stroke="#3c3c3c" stroke-width="1"/>
<line x1="212.9" y1="389.71" x2="217.9" y2="389.71" stroke="#3c3c3c" stroke-width="1"/>
<line x1="107.8" y1="476.79" x2="107.8" y2="493.12" stroke="#3c3c3c" stroke-width="1"/>
<line x1="105.3" y1="476.79" x2="110.3" y2="476.79" stroke="#3c3c3c" stroke-width="1"/>
<line x1="105.3" y1="493.12" x2="110.3" y2="493.12" stroke="#3c3c3c" stroke-width="1"/>
<line x1="143.6" y1="438.7" x2="143.6" y2="463.19" stroke="#3c3c3c" stroke-width="1"/>
<line x1="141.1" y1="438.7" x2="146.1" y2="438.7" stroke="#3c3c3c" stroke-width="1"/>
<line x1="141.1" y1="463.19" x2="146.1" y2="463.19" stroke="#3c3c3c" stroke-width="1"/>
<line x1="179.6" y1="394.47" x2="179.6" y2="427.81" stroke="#3c3c3c" stroke-width="1"/>
<line x1="177.1" y1="394.47" x2="182.1" y2="394.47" stroke="#3c3c3c" stroke-width="1"/>
<line x1="177.1" y1="427.81" x2="182.1" y2="427.81" stroke="#3c3c3c" stroke-width="1"/>
<line x1="215.4" y1="356.38" x2="215.4" y2="378.83" stroke="#3c3c3c" stroke-width="1"/>
<line x1="212.9" y1="356.38" x2="217.9" y2="356.38" stroke="#3c3c3c" stroke-width="1"/>
<line x1="212.9" y1="378.83" x2="217.9" y2="378.83" stroke="#3c3c3c" stroke-width="1"/>
<path d="M71.70,513.40 L107.80,505.91 L143.60,508.36 L179.60,507.00 L215.40,495.30" stroke="#f57a80" stroke-width="1.6" fill="none" stroke-dasharray="3.8,2.6" stroke-linejoin="round"/>
<rect x="69.4" y="511.1" width="4.6" height="4.6" fill="#f57a80" stroke="none" stroke-width="1"/>
<rect x="105.5" y="503.61" width="4.6" height="4.6" fill="#f57a80" stroke="none" stroke-width="1"/>
<rect x="141.3" y="506.06" width="4.6" height="4.6" fill="#f57a80" stroke="none" stroke-width="1"/>
<rect x="177.3" y="504.7" width="4.6" height="4.6" fill="#f57a80" stroke="none" stroke-width="1"/>
<rect x="213.1" y="493" width="4.6" height="4.6" fill="#f57a80" stroke="none" stroke-width="1"/>
<path d="M71.70,513.40 L107.80,501.29 L143.60,491.76 L179.60,480.88 L215.40,468.90" stroke="#f9bd7e" stroke-width="1.6" fill="none" stroke-dasharray="3.8,2.6" stroke-linejoin="round"/>
<rect x="69.4" y="511.1" width="4.6" height="4.6" fill="#f9bd7e" stroke="none" stroke-width="1"/>
<rect x="105.5" y="498.99" width="4.6" height="4.6" fill="#f9bd7e" stroke="none" stroke-width="1"/>
<rect x="141.3" y="489.46" width="4.6" height="4.6" fill="#f9bd7e" stroke="none" stroke-width="1"/>
<rect x="177.3" y="478.58" width="4.6" height="4.6" fill="#f9bd7e" stroke="none" stroke-width="1"/>
<rect x="213.1" y="466.6" width="4.6" height="4.6" fill="#f9bd7e" stroke="none" stroke-width="1"/>
<path d="M71.70,513.40 L107.80,491.08 L143.60,480.60 L179.60,450.40 L215.40,427.81" stroke="#f57a80" stroke-width="1.5" fill="none" stroke-linejoin="round"/>
<rect x="69.4" y="511.1" width="4.6" height="4.6" fill="#f57a80" stroke="none" stroke-width="1"/>
<rect x="105.5" y="488.78" width="4.6" height="4.6" fill="#f57a80" stroke="none" stroke-width="1"/>
<rect x="141.3" y="478.3" width="4.6" height="4.6" fill="#f57a80" stroke="none" stroke-width="1"/>
<rect x="177.3" y="448.1" width="4.6" height="4.6" fill="#f57a80" stroke="none" stroke-width="1"/>
<rect x="213.1" y="425.51" width="4.6" height="4.6" fill="#f57a80" stroke="none" stroke-width="1"/>
<path d="M71.70,513.40 L107.80,483.60 L143.60,465.64 L179.60,432.30 L215.40,408.90" stroke="#f9bd7e" stroke-width="1.5" fill="none" stroke-linejoin="round"/>
<rect x="69.4" y="511.1" width="4.6" height="4.6" fill="#f9bd7e" stroke="none" stroke-width="1"/>
<rect x="105.5" y="481.3" width="4.6" height="4.6" fill="#f9bd7e" stroke="none" stroke-width="1"/>
<rect x="141.3" y="463.34" width="4.6" height="4.6" fill="#f9bd7e" stroke="none" stroke-width="1"/>
<rect x="177.3" y="430" width="4.6" height="4.6" fill="#f9bd7e" stroke="none" stroke-width="1"/>
<rect x="213.1" y="406.6" width="4.6" height="4.6" fill="#f9bd7e" stroke="none" stroke-width="1"/>
<path d="M71.70,513.40 L107.80,478.16 L143.60,452.98 L179.60,416.93 L215.40,387.94" stroke="#5a5af5" stroke-width="1.6" fill="none" stroke-dasharray="3.8,2.6" stroke-linejoin="round"/>
<rect x="69.4" y="511.1" width="4.6" height="4.6" fill="#5a5af5" stroke="none" stroke-width="1"/>
<rect x="105.5" y="475.86" width="4.6" height="4.6" fill="#5a5af5" stroke="none" stroke-width="1"/>
<rect x="141.3" y="450.68" width="4.6" height="4.6" fill="#5a5af5" stroke="none" stroke-width="1"/>
<rect x="177.3" y="414.63" width="4.6" height="4.6" fill="#5a5af5" stroke="none" stroke-width="1"/>
<rect x="213.1" y="385.64" width="4.6" height="4.6" fill="#5a5af5" stroke="none" stroke-width="1"/>
<path d="M71.70,513.40 L107.80,487.00 L143.60,453.94 L179.60,418.69 L215.40,370.12" stroke="#111111" stroke-width="1.6" fill="none" stroke-dasharray="3.8,2.6" stroke-linejoin="round"/>
<rect x="69.4" y="511.1" width="4.6" height="4.6" fill="#111111" stroke="none" stroke-width="1"/>
<rect x="105.5" y="484.7" width="4.6" height="4.6" fill="#111111" stroke="none" stroke-width="1"/>
<rect x="141.3" y="451.64" width="4.6" height="4.6" fill="#111111" stroke="none" stroke-width="1"/>
<rect x="177.3" y="416.39" width="4.6" height="4.6" fill="#111111" stroke="none" stroke-width="1"/>
<rect x="213.1" y="367.82" width="4.6" height="4.6" fill="#111111" stroke="none" stroke-width="1"/>
<path d="M71.70,513.40 L107.80,474.21 L143.60,450.40 L179.60,415.43 L215.40,377.19" stroke="#5a5af5" stroke-width="1.5" fill="none" stroke-linejoin="round"/>
<rect x="69.4" y="511.1" width="4.6" height="4.6" fill="#5a5af5" stroke="none" stroke-width="1"/>
<rect x="105.5" y="471.91" width="4.6" height="4.6" fill="#5a5af5" stroke="none" stroke-width="1"/>
<rect x="141.3" y="448.1" width="4.6" height="4.6" fill="#5a5af5" stroke="none" stroke-width="1"/>
<rect x="177.3" y="413.13" width="4.6" height="4.6" fill="#5a5af5" stroke="none" stroke-width="1"/>
<rect x="213.1" y="374.89" width="4.6" height="4.6" fill="#5a5af5" stroke="none" stroke-width="1"/>
<path d="M71.70,513.40 L107.80,484.96 L143.60,452.71 L179.60,411.21 L215.40,365.22" stroke="#111111" stroke-width="1.5" fill="none" stroke-linejoin="round"/>
<rect x="69.4" y="511.1" width="4.6" height="4.6" fill="#111111" stroke="none" stroke-width="1"/>
<rect x="105.5" y="482.66" width="4.6" height="4.6" fill="#111111" stroke="none" stroke-width="1"/>
<rect x="141.3" y="450.41" width="4.6" height="4.6" fill="#111111" stroke="none" stroke-width="1"/>
<rect x="177.3" y="408.91" width="4.6" height="4.6" fill="#111111" stroke="none" stroke-width="1"/>
<rect x="213.1" y="362.92" width="4.6" height="4.6" fill="#111111" stroke="none" stroke-width="1"/>
<line x1="278" y1="408.1" x2="280.4" y2="408.1" stroke="#111111" stroke-width="1.3"/>
<line x1="281.7" y1="408.1" x2="284.1" y2="408.1" stroke="#111111" stroke-width="1.3"/>
<line x1="285.4" y1="408.1" x2="287.8" y2="408.1" stroke="#111111" stroke-width="1.3"/>
<line x1="296.6" y1="408.1" x2="299" y2="408.1" stroke="#111111" stroke-width="1.3"/>
<line x1="300.3" y1="408.1" x2="302.7" y2="408.1" stroke="#111111" stroke-width="1.3"/>
<line x1="304" y1="408.1" x2="306.4" y2="408.1" stroke="#111111" stroke-width="1.3"/>
<rect x="290.65" y="406.15" width="3.9" height="3.9" fill="#111111" stroke="none" stroke-width="1"/>
<text font-size="10.5" font-weight="bold" text-anchor="start" fill="#000" transform="translate(315.30 411.90)">Vehicle</text>
<line x1="278" y1="421.1" x2="280.4" y2="421.1" stroke="#5a5af5" stroke-width="1.3"/>
<line x1="281.7" y1="421.1" x2="284.1" y2="421.1" stroke="#5a5af5" stroke-width="1.3"/>
<line x1="285.4" y1="421.1" x2="287.8" y2="421.1" stroke="#5a5af5" stroke-width="1.3"/>
<line x1="296.6" y1="421.1" x2="299" y2="421.1" stroke="#5a5af5" stroke-width="1.3"/>
<line x1="300.3" y1="421.1" x2="302.7" y2="421.1" stroke="#5a5af5" stroke-width="1.3"/>
<line x1="304" y1="421.1" x2="306.4" y2="421.1" stroke="#5a5af5" stroke-width="1.3"/>
<rect x="290.65" y="419.15" width="3.9" height="3.9" fill="#5a5af5" stroke="none" stroke-width="1"/>
<text font-size="10.5" font-weight="bold" text-anchor="start" fill="#000" transform="translate(315.30 424.90)">PD-L1</text>
<line x1="278" y1="432.9" x2="280.4" y2="432.9" stroke="#f9bd7e" stroke-width="1.3"/>
<line x1="281.7" y1="432.9" x2="284.1" y2="432.9" stroke="#f9bd7e" stroke-width="1.3"/>
<line x1="285.4" y1="432.9" x2="287.8" y2="432.9" stroke="#f9bd7e" stroke-width="1.3"/>
<line x1="296.6" y1="432.9" x2="299" y2="432.9" stroke="#f9bd7e" stroke-width="1.3"/>
<line x1="300.3" y1="432.9" x2="302.7" y2="432.9" stroke="#f9bd7e" stroke-width="1.3"/>
<line x1="304" y1="432.9" x2="306.4" y2="432.9" stroke="#f9bd7e" stroke-width="1.3"/>
<rect x="290.65" y="430.95" width="3.9" height="3.9" fill="#f9bd7e" stroke="none" stroke-width="1"/>
<text font-size="10.5" font-weight="bold" text-anchor="start" fill="#000" transform="translate(315.30 436.70)">NU7441</text>
<line x1="278" y1="445.6" x2="280.4" y2="445.6" stroke="#f57a80" stroke-width="1.3"/>
<line x1="281.7" y1="445.6" x2="284.1" y2="445.6" stroke="#f57a80" stroke-width="1.3"/>
<line x1="285.4" y1="445.6" x2="287.8" y2="445.6" stroke="#f57a80" stroke-width="1.3"/>
<line x1="296.6" y1="445.6" x2="299" y2="445.6" stroke="#f57a80" stroke-width="1.3"/>
<line x1="300.3" y1="445.6" x2="302.7" y2="445.6" stroke="#f57a80" stroke-width="1.3"/>
<line x1="304" y1="445.6" x2="306.4" y2="445.6" stroke="#f57a80" stroke-width="1.3"/>
<rect x="290.65" y="443.65" width="3.9" height="3.9" fill="#f57a80" stroke="none" stroke-width="1"/>
<text font-size="10.5" font-weight="bold" text-anchor="start" fill="#000" transform="translate(315.30 449.40)">Combination</text>
<line x1="279.9" y1="466.7" x2="309.1" y2="466.7" stroke="#111111" stroke-width="1.4"/>
<rect x="292.95" y="464.75" width="3.9" height="3.9" fill="#111111" stroke="none" stroke-width="1"/>
<text font-size="10.5" font-weight="bold" text-anchor="start" fill="#000" transform="translate(317.00 470.50)">Vehicle</text>
<line x1="279.9" y1="478.6" x2="309.1" y2="478.6" stroke="#5a5af5" stroke-width="1.4"/>
<rect x="292.95" y="476.65" width="3.9" height="3.9" fill="#5a5af5" stroke="none" stroke-width="1"/>
<text font-size="10.5" font-weight="bold" text-anchor="start" fill="#000" transform="translate(317.00 482.40)">PD-L1</text>
<line x1="279.9" y1="490.8" x2="309.1" y2="490.8" stroke="#f9bd7e" stroke-width="1.4"/>
<rect x="292.95" y="488.85" width="3.9" height="3.9" fill="#f9bd7e" stroke="none" stroke-width="1"/>
<text font-size="10.5" font-weight="bold" text-anchor="start" fill="#000" transform="translate(317.00 494.60)">NU7441</text>
<line x1="279.9" y1="502.2" x2="309.1" y2="502.2" stroke="#f57a80" stroke-width="1.4"/>
<rect x="292.95" y="500.25" width="3.9" height="3.9" fill="#f57a80" stroke="none" stroke-width="1"/>
<text font-size="10.5" font-weight="bold" text-anchor="start" fill="#000" transform="translate(317.00 506.00)">Combination</text>
<path d="M359,407.8 H416 V447.6 H409.1" stroke="#111" stroke-width="1.3" fill="none"/>
<path d="M390.2,415.4 H397.0 V430.2 H390.2" stroke="#111" stroke-width="1.3" fill="none"/>
<path d="M390.2,432.7 H397.0 V447.6 H390.2" stroke="#111" stroke-width="1.3" fill="none"/>
<path d="M399.4,415.4 H406.6 V447.6 H399.4 Z" stroke="#111" stroke-width="1.3" fill="none"/>
<path d="M424.1,408.2 H430.3 V435.3 H424.1" stroke="#111" stroke-width="1.3" fill="none"/>
<path d="M361.2,463.7 H417.6 V503 H411.2" stroke="#111" stroke-width="1.3" fill="none"/>
<path d="M392.3,471.3 H398.9 V486 H392.3" stroke="#111" stroke-width="1.3" fill="none"/>
<path d="M392.3,488.7 H398.9 V503 H392.3" stroke="#111" stroke-width="1.3" fill="none"/>
<path d="M401.3,471.3 H408.1 V503 H401.3 Z" stroke="#111" stroke-width="1.3" fill="none"/>
<path d="M423.4,464 H429.6 V490.3 H423.4" stroke="#111" stroke-width="1.3" fill="none"/>
<path d="M275.7,432.5 H269.5 V491.3 H275.7" stroke="#111" stroke-width="1.3" fill="none"/>
<path d="M264.3,444.8 H257.7 V501.8 H264.3" stroke="#111" stroke-width="1.3" fill="none"/>
<text font-size="9.4" font-weight="bold" text-anchor="middle" fill="#000" transform="translate(407.00 423.50) rotate(-90)" letter-spacing="0.6">***</text>
<text font-size="9.4" font-weight="bold" text-anchor="middle" fill="#000" transform="translate(407.00 441.10) rotate(-90)" letter-spacing="0.6">***</text>
<text font-size="9.4" font-weight="bold" text-anchor="middle" fill="#000" transform="translate(416.20 431.40) rotate(-90)" letter-spacing="0.6">***</text>
<text font-size="9.4" font-weight="bold" text-anchor="middle" fill="#000" transform="translate(425.60 428.10) rotate(-90)" letter-spacing="0.6">***</text>
<text font-size="9.4" font-weight="bold" text-anchor="middle" fill="#000" transform="translate(440.90 421.50) rotate(-90)" letter-spacing="0.6">***</text>
<text font-size="9.4" font-weight="bold" text-anchor="middle" fill="#000" transform="translate(408.70 478.70) rotate(-90)" letter-spacing="0.6">***</text>
<text font-size="9.4" font-weight="bold" text-anchor="middle" fill="#000" transform="translate(408.70 496.90) rotate(-90)" letter-spacing="0.6">*</text>
<text font-size="9.4" font-weight="bold" text-anchor="middle" fill="#000" transform="translate(418.40 487.20) rotate(-90)" letter-spacing="0.6">***</text>
<text font-size="9.4" font-weight="bold" text-anchor="middle" fill="#000" transform="translate(427.60 479.80) rotate(-90)" letter-spacing="0.6">***</text>
<text font-size="9.4" font-weight="bold" text-anchor="middle" fill="#000" transform="translate(438.90 476.70) rotate(-90)" letter-spacing="0.6">***</text>
<text font-size="9.4" font-weight="bold" text-anchor="middle" fill="#000" transform="translate(268.20 467.20) rotate(-90)" letter-spacing="0.6">***</text>
<text font-size="9.4" font-weight="bold" text-anchor="middle" fill="#000" transform="translate(255.40 475.40) rotate(-90)" letter-spacing="0.6">***</text>
<text font-size="10.5" font-weight="bold" text-anchor="middle" fill="#000" transform="translate(453.20 460.60) rotate(-90)">CD8 Depletion<tspan dx="2.7"> IgG Control</tspan></text>
<text font-size="15.5" font-weight="normal" text-anchor="start" fill="#000" transform="translate(466.00 13.00) scale(1 1.08)">B</text>
<line x1="518.4" y1="25" x2="518.4" y2="234" stroke="#000" stroke-width="1.7"/>
<line x1="511.4" y1="233.3" x2="518.4" y2="233.3" stroke="#000" stroke-width="1.7"/>
<text font-size="12" font-weight="bold" text-anchor="end" fill="#000" transform="translate(508.90 237.50)">0</text>
<line x1="511.4" y1="181.4" x2="518.4" y2="181.4" stroke="#000" stroke-width="1.7"/>
<text font-size="12" font-weight="bold" text-anchor="end" fill="#000" transform="translate(508.90 185.60)">20</text>
<line x1="511.4" y1="129.5" x2="518.4" y2="129.5" stroke="#000" stroke-width="1.7"/>
<text font-size="12" font-weight="bold" text-anchor="end" fill="#000" transform="translate(508.90 133.70)">40</text>
<line x1="511.4" y1="77.6" x2="518.4" y2="77.6" stroke="#000" stroke-width="1.7"/>
<text font-size="12" font-weight="bold" text-anchor="end" fill="#000" transform="translate(508.90 81.80)">60</text>
<line x1="511.4" y1="25.7" x2="518.4" y2="25.7" stroke="#000" stroke-width="1.7"/>
<text font-size="12" font-weight="bold" text-anchor="end" fill="#000" transform="translate(508.90 29.90)">80</text>
<line x1="511.4" y1="233.3" x2="685" y2="233.3" stroke="#000" stroke-width="1.7"/>
<line x1="561.6" y1="233.3" x2="561.6" y2="240.3" stroke="#000" stroke-width="1.7"/>
<line x1="640.2" y1="233.3" x2="640.2" y2="240.3" stroke="#000" stroke-width="1.7"/>
<text font-size="12" font-weight="bold" text-anchor="end" fill="#000" transform="translate(566.50 250.10) rotate(-45)">IgG Control</text>
<text font-size="12" font-weight="bold" text-anchor="end" fill="#000" transform="translate(644.80 249.60) rotate(-45)">CD8 Depleted</text>
<text font-size="14" font-weight="bold" text-anchor="middle" fill="#000" transform="translate(487.00 129.20) rotate(-90)">% CD8+ cells</text>
<line x1="535.65" y1="202.9" x2="535.65" y2="207.7" stroke="#000000" stroke-width="1.6"/>
<line x1="535.65" y1="219.1" x2="535.65" y2="224.8" stroke="#000000" stroke-width="1.6"/>
<line x1="531.3" y1="202.9" x2="539.6" y2="202.9" stroke="#000000" stroke-width="1.6"/>
<line x1="531.3" y1="224.8" x2="539.6" y2="224.8" stroke="#000000" stroke-width="1.6"/>
<rect x="528.4" y="207.7" width="14.5" height="11.4" fill="#fff" stroke="#000000" stroke-width="1.6"/>
<line x1="552.95" y1="199" x2="552.95" y2="200.9" stroke="#1a1af5" stroke-width="1.6"/>
<line x1="552.95" y1="216.8" x2="552.95" y2="219.7" stroke="#1a1af5" stroke-width="1.6"/>
<line x1="548.8" y1="199" x2="556.8" y2="199" stroke="#1a1af5" stroke-width="1.6"/>
<line x1="548.8" y1="219.7" x2="556.8" y2="219.7" stroke="#1a1af5" stroke-width="1.6"/>
<rect x="545.5" y="200.9" width="14.9" height="15.9" fill="#fff" stroke="#1a1af5" stroke-width="1.6"/>
<line x1="570.6" y1="143.2" x2="570.6" y2="154.8" stroke="#f7962f" stroke-width="1.5"/>
<line x1="570.6" y1="177.9" x2="570.6" y2="190" stroke="#f7962f" stroke-width="1.5"/>
<line x1="566.5" y1="143.2" x2="574.5" y2="143.2" stroke="#f7962f" stroke-width="1.5"/>
<line x1="566.5" y1="190" x2="574.5" y2="190" stroke="#f7962f" stroke-width="1.5"/>
<rect x="563.35" y="154.8" width="14.5" height="23.1" fill="#fff" stroke="#f7962f" stroke-width="1.5"/>
<line x1="587.95" y1="91.7" x2="587.95" y2="103.3" stroke="#fb7880" stroke-width="1.4"/>
<line x1="587.95" y1="129.7" x2="587.95" y2="153.6" stroke="#fb7880" stroke-width="1.4"/>
<line x1="584.4" y1="91.7" x2="591.8" y2="91.7" stroke="#fb7880" stroke-width="1.4"/>
<line x1="584.4" y1="153.6" x2="591.8" y2="153.6" stroke="#fb7880" stroke-width="1.4"/>
<rect x="580.4" y="103.3" width="15.1" height="26.4" fill="#fff" stroke="#fb7880" stroke-width="1.4"/>
<rect x="605.6" y="227.8" width="16.8" height="3.8" fill="#000000" stroke="none" stroke-width="1"/>
<rect x="611" y="226.3" width="7" height="1.5" fill="#000000" stroke="none" stroke-width="1"/>
<rect x="614" y="227" width="1.2" height="1" fill="#000000" stroke="none" stroke-width="1"/>
<rect x="622.8" y="228.1" width="17.5" height="4.4" fill="#1a1af5" stroke="none" stroke-width="1"/>
<rect x="627.5" y="226" width="8.1" height="1.4" fill="#1a1af5" stroke="none" stroke-width="1"/>
<rect x="631" y="226.5" width="1.3" height="2" fill="#1a1af5" stroke="none" stroke-width="1"/>
<rect x="640.8" y="228" width="17" height="2.9" fill="#f7962f" stroke="none" stroke-width="1"/>
<rect x="645" y="225.2" width="8.7" height="1.4" fill="#f7962f" stroke="none" stroke-width="1"/>
<rect x="648.7" y="225.5" width="1.3" height="2.7" fill="#f7962f" stroke="none" stroke-width="1"/>
<rect x="645" y="230.8" width="8.7" height="1.8" fill="#f7962f" stroke="none" stroke-width="1"/>
<rect x="658.5" y="228.6" width="16.7" height="1.8" fill="#fb7880" stroke="none" stroke-width="1"/>
<rect x="662.7" y="225.7" width="8.3" height="1.4" fill="#fb7880" stroke="none" stroke-width="1"/>
<rect x="666.2" y="226" width="1.3" height="2.8" fill="#fb7880" stroke="none" stroke-width="1"/>
<rect x="662.7" y="230.4" width="8.3" height="1.7" fill="#fb7880" stroke="none" stroke-width="1"/>
<path d="M531.9,71.5 V54.7 H588.3 V71.5" stroke="#262626" stroke-width="1.2" fill="none"/>
<path d="M531.9,125 V108.1 H570.5 V118.4" stroke="#262626" stroke-width="1.2" fill="none"/>
<path d="M531.9,194 V176.7 H552.7 V184.2" stroke="#262626" stroke-width="1.2" fill="none"/>
<path d="M614.3,220 V208.4 H648.5 V220.5 M630.2,220.5 H666.9" stroke="#262626" stroke-width="1.2" fill="none"/>
<text font-size="18" font-weight="normal" text-anchor="middle" fill="#000" transform="translate(560.50 53.10)" letter-spacing="1.4" stroke="#000" stroke-width="0.35">***</text>
<text font-size="18" font-weight="normal" text-anchor="middle" fill="#000" transform="translate(551.70 107.20)" letter-spacing="1.4" stroke="#000" stroke-width="0.35">***</text>
<text font-size="12" font-weight="normal" text-anchor="middle" fill="#000" transform="translate(542.40 169.30)">ns</text>
<text font-size="12" font-weight="normal" text-anchor="middle" fill="#000" transform="translate(631.50 200.80)">ns</text>
<text font-size="15.5" font-weight="normal" text-anchor="start" fill="#000" transform="translate(466.00 309.90) scale(1 1.08)">D</text>
<line x1="519" y1="317.9" x2="519" y2="527.7" stroke="#000" stroke-width="1.7"/>
<line x1="512" y1="527" x2="519" y2="527" stroke="#000" stroke-width="1.7"/>
<text font-size="12" font-weight="bold" text-anchor="end" fill="#000" transform="translate(509.50 531.20)">0</text>
<line x1="512" y1="474.9" x2="519" y2="474.9" stroke="#000" stroke-width="1.7"/>
<text font-size="12" font-weight="bold" text-anchor="end" fill="#000" transform="translate(509.50 479.10)">20</text>
<line x1="512" y1="422.8" x2="519" y2="422.8" stroke="#000" stroke-width="1.7"/>
<text font-size="12" font-weight="bold" text-anchor="end" fill="#000" transform="translate(509.50 427.00)">40</text>
<line x1="512" y1="370.7" x2="519" y2="370.7" stroke="#000" stroke-width="1.7"/>
<text font-size="12" font-weight="bold" text-anchor="end" fill="#000" transform="translate(509.50 374.90)">60</text>
<line x1="512" y1="318.6" x2="519" y2="318.6" stroke="#000" stroke-width="1.7"/>
<text font-size="12" font-weight="bold" text-anchor="end" fill="#000" transform="translate(509.50 322.80)">80</text>
<line x1="512" y1="527" x2="671.6" y2="527" stroke="#000" stroke-width="1.7"/>
<line x1="558.8" y1="527" x2="558.8" y2="534" stroke="#000" stroke-width="1.7"/>
<line x1="631.5" y1="527" x2="631.5" y2="534" stroke="#000" stroke-width="1.7"/>
<text font-size="12" font-weight="bold" text-anchor="end" fill="#000" transform="translate(563.20 544.60) rotate(-45)">IgG Control</text>
<text font-size="12" font-weight="bold" text-anchor="end" fill="#000" transform="translate(636.60 544.10) rotate(-45)">CD8 Depleted</text>
<text font-size="14" font-weight="bold" text-anchor="middle" fill="#000" transform="translate(487.00 423.00) rotate(-90)">% CD8+ cells</text>
<line x1="534.9" y1="499" x2="534.9" y2="505.5" stroke="#000000" stroke-width="1.6"/>
<line x1="534.9" y1="519.1" x2="534.9" y2="519.7" stroke="#000000" stroke-width="1.6"/>
<line x1="531.3" y1="499" x2="538.6" y2="499" stroke="#000000" stroke-width="1.6"/>
<line x1="531.3" y1="519.7" x2="538.6" y2="519.7" stroke="#000000" stroke-width="1.6"/>
<rect x="528.4" y="505.5" width="13" height="13.6" fill="#fff" stroke="#000000" stroke-width="1.6"/>
<line x1="551" y1="493.9" x2="551" y2="495.3" stroke="#1a1af5" stroke-width="1.6"/>
<line x1="551" y1="510.2" x2="551" y2="514.3" stroke="#1a1af5" stroke-width="1.6"/>
<line x1="547.3" y1="493.9" x2="554.6" y2="493.9" stroke="#1a1af5" stroke-width="1.6"/>
<line x1="547.3" y1="514.3" x2="554.6" y2="514.3" stroke="#1a1af5" stroke-width="1.6"/>
<rect x="544.5" y="495.3" width="13" height="14.9" fill="#fff" stroke="#1a1af5" stroke-width="1.6"/>
<line x1="566.45" y1="415.7" x2="566.45" y2="422.8" stroke="#f7962f" stroke-width="1.5"/>
<line x1="566.45" y1="464" x2="566.45" y2="479.5" stroke="#f7962f" stroke-width="1.5"/>
<line x1="563.2" y1="415.7" x2="569.8" y2="415.7" stroke="#f7962f" stroke-width="1.5"/>
<line x1="563.2" y1="479.5" x2="569.8" y2="479.5" stroke="#f7962f" stroke-width="1.5"/>
<rect x="560.05" y="422.8" width="12.8" height="41.2" fill="#fff" stroke="#f7962f" stroke-width="1.5"/>
<line x1="582.45" y1="353.5" x2="582.45" y2="384.4" stroke="#fb7880" stroke-width="1.4"/>
<line x1="582.45" y1="423.1" x2="582.45" y2="426.1" stroke="#fb7880" stroke-width="1.4"/>
<line x1="579" y1="353.5" x2="586" y2="353.5" stroke="#fb7880" stroke-width="1.4"/>
<line x1="579" y1="426.1" x2="586" y2="426.1" stroke="#fb7880" stroke-width="1.4"/>
<rect x="576" y="384.4" width="12.9" height="38.7" fill="#fff" stroke="#fb7880" stroke-width="1.4"/>
<rect x="599.9" y="523.2" width="15" height="2.8" fill="#000000" stroke="none" stroke-width="1"/>
<rect x="603.8" y="522" width="7.6" height="5" fill="#000000" stroke="none" stroke-width="1"/>
<rect x="603.8" y="519.2" width="7.6" height="1.4" fill="#000000" stroke="none" stroke-width="1"/>
<rect x="607" y="519.5" width="1.3" height="3" fill="#000000" stroke="none" stroke-width="1"/>
<rect x="616" y="522.3" width="15.2" height="2.4" fill="#1a1af5" stroke="none" stroke-width="1"/>
<rect x="619.5" y="521.1" width="8.2" height="5.9" fill="#1a1af5" stroke="none" stroke-width="1"/>
<rect x="632.1" y="522.3" width="14.9" height="2.4" fill="#f7962f" stroke="none" stroke-width="1"/>
<rect x="635.3" y="521.1" width="8.2" height="5.9" fill="#f7962f" stroke="none" stroke-width="1"/>
<rect x="648.2" y="522.3" width="15.1" height="2.4" fill="#fb7880" stroke="none" stroke-width="1"/>
<rect x="651.7" y="521.1" width="8.1" height="5.9" fill="#fb7880" stroke="none" stroke-width="1"/>
<path d="M535.3,356 V338.5 H582.4 V348" stroke="#262626" stroke-width="1.2" fill="none"/>
<path d="M534.5,411.6 V394.6 H568.3 V401.7" stroke="#262626" stroke-width="1.2" fill="none"/>
<path d="M531.6,487.5 V470.6 H552.5 V477.6" stroke="#262626" stroke-width="1.2" fill="none"/>
<path d="M607.3,517.4 V505.2 H639.7 V517.2 M620.2,517.2 H658.7" stroke="#262626" stroke-width="1.2" fill="none"/>
<text font-size="18" font-weight="normal" text-anchor="middle" fill="#000" transform="translate(559.30 337.60)" letter-spacing="1.4" stroke="#000" stroke-width="0.35">***</text>
<text font-size="18" font-weight="normal" text-anchor="middle" fill="#000" transform="translate(552.20 393.30)" letter-spacing="1.4" stroke="#000" stroke-width="0.35">***</text>
<text font-size="12" font-weight="normal" text-anchor="middle" fill="#000" transform="translate(542.00 463.00)">ns</text>
<text font-size="12" font-weight="normal" text-anchor="middle" fill="#000" transform="translate(623.60 498.00)">ns</text>
<line x1="529.5" y1="519.9" x2="540.5" y2="519.9" stroke="#000" stroke-width="2.4"/>
<line x1="560.05" y1="423.6" x2="560.05" y2="463.2" stroke="#ffffff" stroke-width="1.6"/>
<line x1="559.6" y1="423" x2="559.6" y2="463.8" stroke="#fbbf85" stroke-width="1.1"/>
</svg>
</body></html>
